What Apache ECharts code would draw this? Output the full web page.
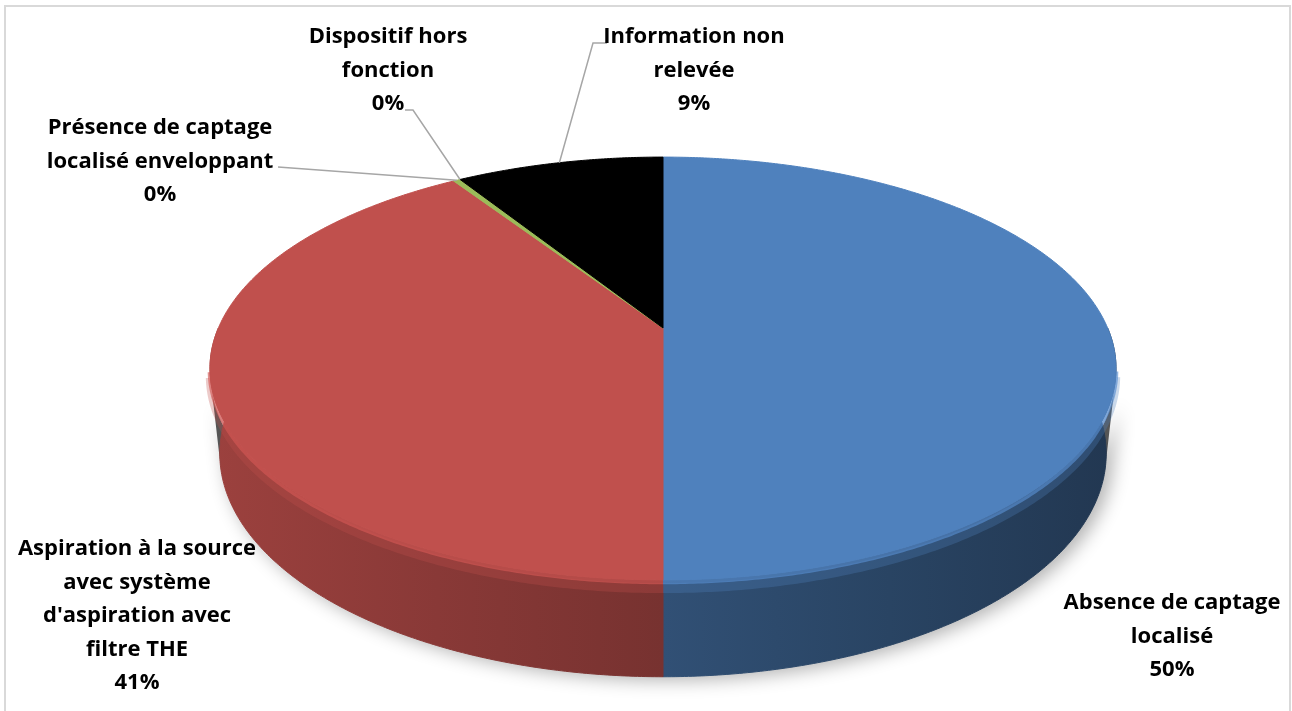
<!DOCTYPE html>
<html>
<head>
<meta charset="utf-8">
<script src="https://cdn.jsdelivr.net/npm/echarts@6/dist/echarts.min.js"></script>
<style>
	html, body { margin: 0; padding: 0; background: #fff; }
	#main { width: 1292px; height: 711px; }
</style>
</head>
<body>
<div id="main"></div>
<script>
// chart data
const categories = [
	"Absence de captage localisé",
	"Aspiration à la source avec système d'aspiration avec filtre THE",
	"Présence de captage localisé enveloppant",
	"Dispositif hors fonction",
	"Information non relevée",
];
const values = [50, 40.8, 0.3, 0, 8.9];
const labelLines = [
	["Absence de captage", "localisé"],
	["Aspiration à la source", "avec système", "d'aspiration avec", "filtre THE"],
	["Présence de captage", "localisé enveloppant"],
	["Dispositif hors", "fonction"],
	["Information non", "relevée"],
];
const sliceColors = ["#4F81BD", "#C0504D", "#9BBB59", "#8064A2", "#000000"];

// layout of the 3d pie (pixels / radius units)
const cx = 663, cy = 328;
const tilt = (27.26 * Math.PI) / 180;
const camDist = 4.642;
const focal = 2064;
const depth = 0.217;
const sinT = Math.sin(tilt), cosT = Math.cos(tilt);

// label placement (top-centre of text block) and leader start points
const labelPos = [[1172, 586], [137, 532], [160, 111], [388, 20], [694, 20]];
const leaderFrom = [null, null, [[278, 167]], [[405, 110], [413, 110]], [[607, 43], [593, 43]]];
const fontFamily = "'Open Sans', sans-serif";
const fontSize = 22;
const lineH = 33.5;

const total = values.reduce((a, b) => a + b, 0);

// angle 0 = back (12 o'clock), clockwise seen from above
const project = (theta, z) => {
	const u = Math.sin(theta), v = Math.cos(theta);
	const up = v * sinT + z * cosT;
	const d = camDist + v * cosT - z * sinT;
	return [cx + (focal * u) / d, cy - (focal * up) / d];
};

const rim = (a, b, z) => {
	const pts = [];
	const n = Math.max(2, Math.ceil((b - a) / 0.008));
	for (let k = 0; k <= n; k++) pts.push(project(a + ((b - a) * k) / n, z));
	return pts;
};

const shade = (hex, f) => {
	const r = parseInt(hex.slice(1, 3), 16), g = parseInt(hex.slice(3, 5), 16), b = parseInt(hex.slice(5, 7), 16);
	const c = (x) => Math.max(0, Math.min(255, Math.round(x * f)));
	return "rgb(" + c(r) + "," + c(g) + "," + c(b) + ")";
};

const sideFill = (hex) => {
	const stops = [];
	for (let t = 0; t <= 1.0001; t += 0.25) {
		const u = 2 * t - 1;
		stops.push({ offset: Math.min(1, t), color: shade(hex, 0.62 - 0.19 * u) });
	}
	return new echarts.graphic.LinearGradient(cx - 453, 0, cx + 453, 0, stops, true);
};

const renderItem = (params, api) => {
	const i = params.dataIndex;
	let before = 0;
	for (let k = 0; k < i; k++) before += values[k];
	const a0 = (before / total) * Math.PI * 2;
	const a1 = ((before + values[i]) / total) * Math.PI * 2;
	const color = sliceColors[i];
	const children = [];

	if (i === 0) {
		// soft shadow under the whole front side (kept a bit inside the silhouette)
		const sh = rim(1.8, 4.48, -depth + 0.01).concat(rim(1.8, 4.48, -0.02).reverse());
		children.push({
			type: "polygon",
			z2: 0,
			shape: { points: sh },
			style: { fill: "#555", shadowColor: "rgba(0,0,0,0.3)", shadowBlur: 18, shadowOffsetX: 6, shadowOffsetY: 8 },
		});
	}

	// outer side, only front half is visible
	const s0 = Math.max(a0, Math.PI / 2), s1 = Math.min(a1, (3 * Math.PI) / 2);
	if (s1 > s0) {
		const pts = rim(s0, s1, 0).concat(rim(s0, s1, -depth).reverse());
		const fill = sideFill(color);
		children.push({ type: "polygon", z2: 1, shape: { points: pts }, style: { fill: fill, stroke: fill, lineWidth: 1 } });
		// rounded bevel highlight just under the top edge
		const h0 = Math.max(s0, 1.77), h1 = Math.min(s1, 4.51);
		if (h1 > h0) {
			children.push({
				type: "polyline",
				z2: 2,
				shape: { points: rim(h0, h1, -0.018) },
				style: { stroke: shade(color, 1.0), lineWidth: 10, opacity: 0.3, fill: null },
			});
			children.push({
				type: "polyline",
				z2: 3,
				shape: { points: rim(h0, h1, -0.004) },
				style: { stroke: shade(color, 1.1), lineWidth: 5, opacity: 0.65, fill: null },
			});
		}
	}

	// top face
	if (a1 > a0) {
		const top = [[cx, cy]].concat(rim(a0, a1, 0));
		children.push({ type: "polygon", z2: 5, shape: { points: top }, style: { fill: color, stroke: color, lineWidth: 1 } });
	}

	// label
	const pct = Math.round((values[i] / total) * 100) + "%";
	children.push({
		type: "text",
		z2: 20,
		style: {
			text: labelLines[i].concat([pct]).join("\n"),
			x: labelPos[i][0],
			y: labelPos[i][1],
			align: "center",
			verticalAlign: "top",
			fill: "#000",
			fontFamily: fontFamily,
			fontSize: fontSize,
			fontWeight: "bold",
			lineHeight: lineH,
		},
	});
	if (leaderFrom[i]) {
		const end = project((a0 + a1) / 2, 0);
		children.push({
			type: "polyline",
			z2: 19,
			shape: { points: leaderFrom[i].concat([end]) },
			style: { stroke: "#a6a6a6", lineWidth: 1.5, fill: null },
		});
	}
	return { type: "group", children: children };
};

const chart = echarts.init(document.getElementById("main"));
chart.setOption({
	animation: false,
	graphic: [
		{
			type: "rect",
			shape: { x: 5, y: 6, width: 1285, height: 760 },
			style: { fill: "none", stroke: "#d9d9d9", lineWidth: 2 },
			z: -1,
		},
	],
	series: [
		{
			type: "custom",
			coordinateSystem: "none",
			renderItem: renderItem,
			data: values.map((v, i) => ({ name: categories[i], value: v })),
		},
	],
});
</script>
</body>
</html>
